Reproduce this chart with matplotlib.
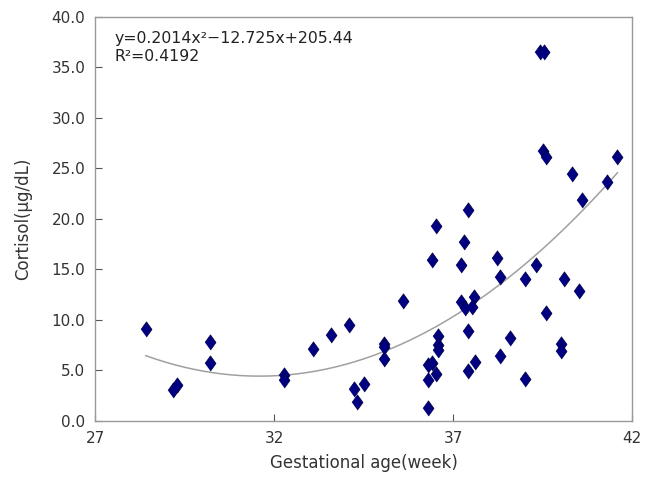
import numpy as np
import matplotlib
matplotlib.use("Agg")
import matplotlib.pyplot as plt

# gestational age (week) and cortisol (ug/dL)
age = [28.42, 30.21, 30.21, 29.19, 29.28, 32.28, 32.28,
       33.08, 33.58, 34.09, 35.59, 35.08, 35.08, 35.08, 34.22, 34.50, 34.31,
       37.41, 36.52, 37.31, 36.42, 37.22, 38.22, 38.30, 37.59, 37.22, 37.32,
       37.52, 37.41, 36.59, 36.59, 36.59, 38.59, 38.30, 36.31, 36.42, 36.52,
       36.29, 37.60, 37.41, 36.29,
       39.52, 39.60, 40.31, 41.59, 41.29, 40.59, 39.31, 39.02, 40.10, 40.52,
       39.60, 40.02, 40.02, 39.02, 39.42, 39.55]
cortisol = [9.1, 7.8, 5.7, 3.1, 3.6, 4.6, 4.1,
            7.1, 8.5, 9.5, 11.9, 7.6, 7.3, 6.1, 3.2, 3.7, 1.9,
            20.9, 19.3, 17.7, 15.9, 15.4, 16.1, 14.3, 12.3, 11.8, 11.2,
            11.3, 8.9, 8.4, 7.5, 7.0, 8.2, 6.4, 5.5, 5.7, 4.7,
            4.1, 5.8, 4.9, 1.3,
            26.7, 26.1, 24.5, 26.1, 23.7, 21.9, 15.4, 14.1, 14.1, 12.9,
            10.7, 7.6, 6.9, 4.2, 36.5, 36.5]

# quadratic trend as printed on the chart
coef = [0.2014, -12.725, 205.44]
fit_range = (28.42, 41.59)

xticks = [27, 32, 37, 42]
yticks = [0, 5, 10, 15, 20, 25, 30, 35, 40]

plt.rcParams["font.family"] = ["DejaVu Sans"]

fig = plt.figure(figsize=(6.53, 4.83), dpi=100)
ax = fig.add_axes([0.1455, 0.1284, 0.8225, 0.8364])

# slightly fat diamond, like the original marker
diamond = [(-0.72, 0), (0, 1), (0.72, 0), (0, -1)]

xs = np.linspace(fit_range[0], fit_range[1], 200)
ax.plot(xs, np.polyval(coef, xs), color="#a0a0a0", lw=1.1, zorder=2)
ax.plot(age, cortisol, linestyle="none", marker=diamond, ms=11,
        color="#000080", mec="#000040", mew=0.5, zorder=3)

ax.set_xlim(27, 42)
ax.set_ylim(0, 40)
ax.set_xticks(xticks)
ax.set_yticks(yticks)
ax.set_yticklabels([f"{v:.1f}" for v in yticks])
ax.tick_params(direction="in", length=5, color="#555555", labelsize=11,
               labelcolor="#333333", pad=7)
for s in ax.spines.values():
    s.set_color("#999999")
    s.set_linewidth(1.0)

ax.set_xlabel("Gestational age(week)", fontsize=12, color="#333333", labelpad=6)
ax.set_ylabel("Cortisol(\u03bcg/dL)", fontsize=12, color="#333333", labelpad=14)

ax.text(0.037, 0.965, "y=0.2014x\u00b2\u221212.725x+205.44\nR\u00b2=0.4192",
        transform=ax.transAxes, ha="left", va="top", fontsize=11.3,
        color="#222222", linespacing=1.2)

fig.savefig("out.png", dpi=100)
